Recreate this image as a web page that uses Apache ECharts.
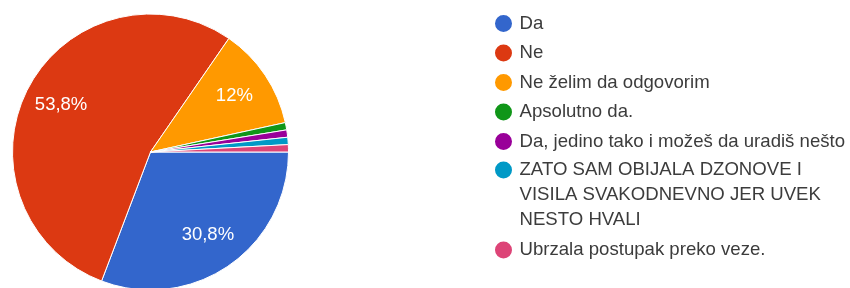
<!DOCTYPE html>
<html>
<head>
<meta charset="utf-8">
<script src="https://cdn.jsdelivr.net/npm/echarts@6/dist/echarts.min.js"></script>
<style>
    html, body { margin: 0; padding: 0; background: #fff; }
    #main { width: 850px; height: 288px; }
</style>
</head>
<body>
<div id="main"></div>
<script>
    // odgovori (ankete)
    var categories = [
        'Da',
        'Ne',
        'Ne želim da odgovorim',
        'Apsolutno da.',
        'Da, jedino tako i možeš da uradiš nešto',
        'ZATO SAM OBIJALA DZONOVE I VISILA SVAKODNEVNO JER UVEK NESTO HVALI',
        'Ubrzala postupak preko veze.'
    ];
    var counts = [36, 63, 14, 1, 1, 1, 1];
    var colors = ['#3366cc', '#dc3912', '#ff9900', '#109618', '#990099', '#0099c6', '#dd4477'];

    var total = counts.reduce(function (a, b) { return a + b; }, 0);
    var font = '"Liberation Sans", Arial, sans-serif';

    var pieData = categories.map(function (name, i) {
        return { name: name, value: counts[i] };
    });

    function fmtPct(v) {
        var p = Math.round(v / total * 1000) / 10;
        if (p < 5) return '';
        return (p % 1 === 0 ? p.toFixed(0) : p.toFixed(1)).replace('.', ',') + '%';
    }

    var legendText = { fontFamily: font, fontSize: 18.6, color: '#3c3c3c', lineHeight: 25 };

    var chart = echarts.init(document.getElementById('main'));
    var option = {
        backgroundColor: '#fff',
        color: colors,
        animation: false,
        legend: [
            {
                orient: 'vertical',
                left: 493,
                top: 11,
                padding: 0,
                icon: 'circle',
                itemWidth: 22,
                itemHeight: 19,
                itemGap: 4.5,
                selectedMode: false,
                textStyle: legendText,
                data: categories.slice(0, 5)
            },
            {
                orient: 'vertical',
                left: 493,
                top: 107.5,
                padding: 0,
                icon: 'circle',
                itemWidth: 22,
                itemHeight: 19,
                itemGap: 5,
                selectedMode: false,
                textStyle: echarts.util.extend({ width: 320, overflow: 'break' }, legendText),
                // dve prazne linije gore -> krug stoji uz prvi red dugog teksta
                formatter: function (name) {
                    return name === categories[5] ? '\n\n' + name : name;
                },
                data: categories.slice(5)
            }
        ],
        series: [
            {
                type: 'pie',
                center: [150.5, 152],
                radius: 138,
                startAngle: 0,
                clockwise: true,
                silent: true,
                label: { show: false },
                labelLine: { show: false },
                itemStyle: { borderColor: '#fff', borderWidth: 1 },
                data: pieData
            },
            {
                // samo za natpise (procenti)
                type: 'pie',
                center: [150.5, 152],
                radius: [78, 118],
                startAngle: 0,
                clockwise: true,
                silent: true,
                legendHoverLink: false,
                itemStyle: { color: 'rgba(0,0,0,0)', borderWidth: 0 },
                label: {
                    show: true,
                    position: 'inside',
                    color: '#fff',
                    fontFamily: font,
                    fontSize: 18.5,
                    formatter: function (p) { return fmtPct(p.value); }
                },
                labelLine: { show: false },
                data: pieData
            }
        ]
    };
    chart.setOption(option);
</script>
</body>
</html>
